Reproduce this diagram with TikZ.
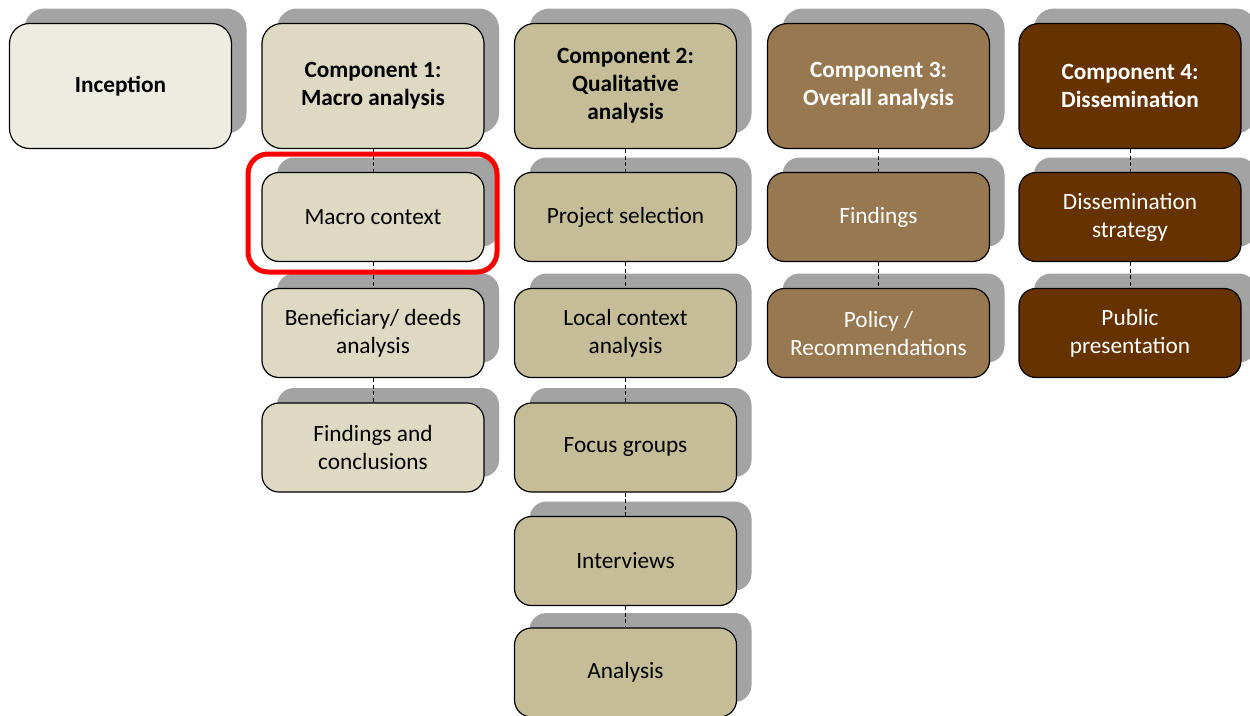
\documentclass[tikz,border=0pt]{standalone}
\usepackage{fontspec}
\setmainfont{Carlito}
\usetikzlibrary{shadows}
\definecolor{shadowgray}{HTML}{A3A3A3}
\definecolor{incfill}{HTML}{EEECE1}
\definecolor{c1fill}{HTML}{DDD9C3}
\definecolor{c2fill}{HTML}{C4BD97}
\definecolor{c3fill}{HTML}{977850}
\definecolor{c4fill}{HTML}{663300}
\tikzset{
  card/.style={rounded corners=17pt, draw=black, line width=1.2pt,
    minimum width=222pt, minimum height=89pt, inner sep=0pt, align=center,
    font=\fontsize{23.3}{28}\selectfont,
    drop shadow={shadow xshift=15pt, shadow yshift=15pt, fill=shadowgray, opacity=1}},
  head/.style={card, minimum height=125pt, rounded corners=20pt,
    font=\fontsize{23.3}{28}\selectfont\bfseries},
  link/.style={draw=black, line width=0.8pt, dash pattern=on 4pt off 2.5pt},
  mark box/.style={draw=red, line width=5pt, rounded corners=20pt}
}
\begin{document}
\begin{tikzpicture}[x=1pt, y=-1pt]
  \useasboundingbox (0,0) rectangle (1250,715);
  % column heads
  \node[head, fill=incfill] (inc) at (120.5,86) {Inception};
  \node[head, fill=c1fill] (h1) at (373,86) {Component 1:\\Macro analysis};
  \node[head, fill=c2fill] (h2) at (625.5,86) {Component 2:\\Qualitative\\analysis};
  \node[head, fill=c3fill, text=white] (h3) at (878.5,86) {Component 3:\\Overall analysis};
  \node[head, fill=c4fill, text=white] (h4) at (1130,86) {Component 4:\\Dissemination};
  % component 1
  \node[card, fill=c1fill] (a1) at (373,217) {Macro context};
  \node[card, fill=c1fill] (a2) at (373,333) {Beneficiary/ deeds\\analysis};
  \node[card, fill=c1fill] (a3) at (373,447.5) {Findings and\\conclusions};
  % component 2
  \node[card, fill=c2fill] (b1) at (625.5,217) {Project selection};
  \node[card, fill=c2fill] (b2) at (625.5,333) {Local context\\analysis};
  \node[card, fill=c2fill] (b3) at (625.5,447.5) {Focus groups};
  \node[card, fill=c2fill] (b4) at (625.5,561) {Interviews};
  \node[card, fill=c2fill] (b5) at (625.5,672.5) {Analysis};
  % component 3
  \node[card, fill=c3fill, text=white] (d1) at (878.5,217) {Findings};
  \node[card, fill=c3fill, text=white] (d2) at (878.5,333) {Policy /\\Recommendations};
  % component 4
  \node[card, fill=c4fill, text=white] (e1) at (1130,217) {Dissemination\\strategy};
  \node[card, fill=c4fill, text=white] (e2) at (1130,333) {Public\\presentation};
  % dashed links
  \draw[link] (h1) -- (a1); \draw[link] (a1) -- (a2); \draw[link] (a2) -- (a3);
  \draw[link] (h2) -- (b1); \draw[link] (b1) -- (b2); \draw[link] (b2) -- (b3);
  \draw[link] (b3) -- (b4); \draw[link] (b4) -- (b5);
  \draw[link] (h3) -- (d1); \draw[link] (d1) -- (d2);
  \draw[link] (h4) -- (e1); \draw[link] (e1) -- (e2);
  % highlight frame
  \node[mark box, minimum width=249pt, minimum height=118pt] (hl) at (372.5,213) {};
\end{tikzpicture}
\end{document}
